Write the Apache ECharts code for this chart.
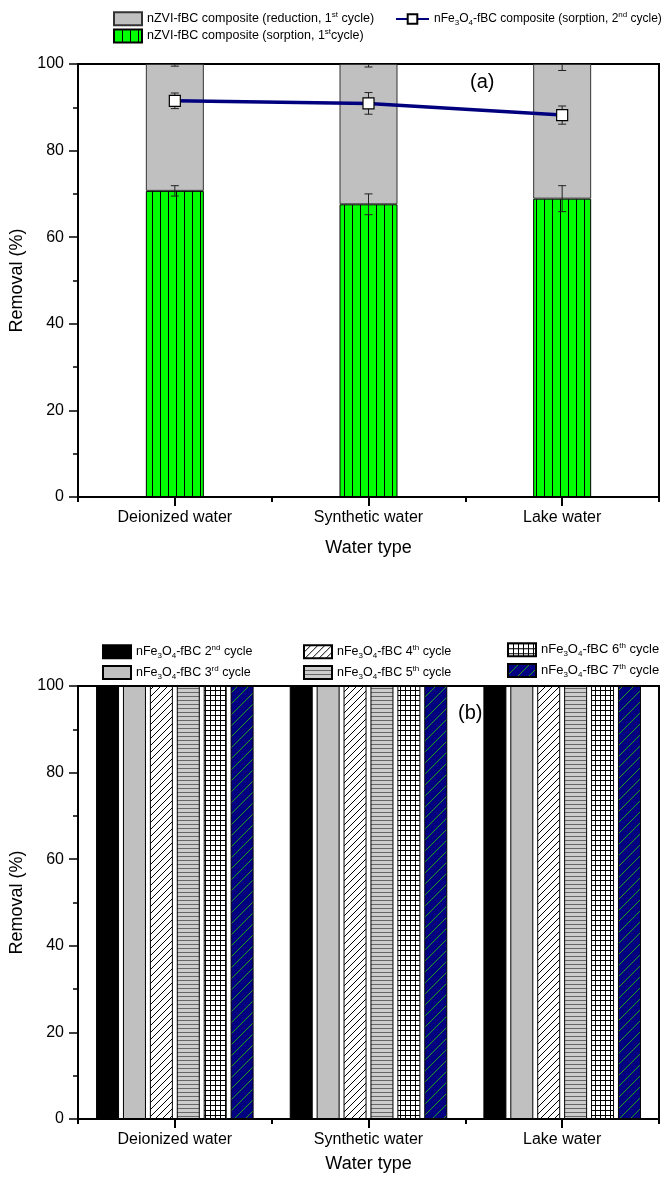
<!DOCTYPE html>
<html><head><meta charset="utf-8">
<script src="https://cdn.jsdelivr.net/npm/echarts@6/dist/echarts.min.js"></script>
<style>html,body{margin:0;padding:0;background:#fff}#c{width:670px;height:1184px}</style>
</head><body><div id="c"></div>
<script>
// ---- data ----
const categories = ['Deionized water', 'Synthetic water', 'Lake water'];
const yTickValues = [0, 20, 40, 60, 80, 100];
// panel (a)
const sorption1 = [70.7, 67.6, 68.9];
const sorption1Err = [1.2, 2.4, 3.0];
const reduction1 = [29.3, 32.4, 31.1];
const total1Err = [0.5, 0.7, 1.5];
const sorption2 = [91.5, 90.9, 88.2];
const sorption2Err = [1.8, 2.5, 2.1];
// panel (b)
const cycle2 = [100, 100, 100];
const cycle3 = [100, 100, 100];
const cycle4 = [100, 100, 100];
const cycle5 = [100, 100, 100];
const cycle6 = [100, 100, 100];
const cycle7 = [100, 100, 100];

const N_RED = 'nZVI-fBC composite (reduction, 1st cycle)';
const N_SOR = 'nZVI-fBC composite (sorption, 1st cycle)';
const N_FE = 'nFe3O4-fBC composite (sorption, 2nd cycle)';
const N_C = ['nFe3O4-fBC 2nd cycle','nFe3O4-fBC 3rd cycle','nFe3O4-fBC 4th cycle','nFe3O4-fBC 5th cycle','nFe3O4-fBC 6th cycle','nFe3O4-fBC 7th cycle'];
const richNames = {};
richNames[N_RED] = 'nZVI-fBC composite (reduction, 1{sup|st} cycle)';
richNames[N_SOR] = 'nZVI-fBC composite (sorption, 1{sup|st}cycle)';
richNames[N_FE] = 'nFe{sub|3}O{sub|4}-fBC composite (sorption, 2{sup|nd} cycle)';
const ords = ['nd','rd','th','th','th','th'];
N_C.forEach((n,i)=>{ richNames[n] = 'nFe{sub|3}O{sub|4}-fBC ' + (i+2) + '{sup|' + ords[i] + '} cycle'; });

// ---- patterns ----
function pattern(w, h, bg, draw) {
  const c = document.createElement('canvas'); c.width = w; c.height = h;
  const g = c.getContext('2d'); g.fillStyle = bg; g.fillRect(0, 0, w, h); draw(g, w, h);
  return { image: c, repeat: 'repeat' };
}
function diag(g, s, color, lw) {
  g.strokeStyle = color; g.lineWidth = lw; g.beginPath();
  g.moveTo(-1, s + 1); g.lineTo(s + 1, -1);
  g.moveTo(-1, 1); g.lineTo(1, -1);
  g.moveTo(s - 1, s + 1); g.lineTo(s + 1, s - 1);
  g.stroke();
}
const greenPat = pattern(8, 8, '#00ff00', g => { g.fillStyle = '#000'; g.fillRect(0, 0, 1, 8); });
const diagPat = pattern(7, 7, '#ffffff', (g, w) => diag(g, w, '#000', 1));
const horizPat = pattern(4, 4, '#cccccc', g => { g.fillStyle = '#666'; g.fillRect(0, 0, 4, 1); });
const gridPat = pattern(5, 5, '#ffffff', g => { g.fillStyle = '#000'; g.fillRect(0, 0, 5, 1); g.fillRect(0, 0, 1, 5); });
const navyPat = pattern(11, 11, '#000080', (g, w) => diag(g, w, '#1f9f1f', 1));

const FONT = "'Liberation Sans', Arial, sans-serif";
function richStyle(fs) {
  return {
    sup: { fontSize: 8, lineHeight: 9, verticalAlign: 'top', fontFamily: FONT, color: '#000' },
    sub: { fontSize: 8, lineHeight: 9, verticalAlign: 'bottom', fontFamily: FONT, color: '#000' }
  };
}
function legendText(fs) { return { fontSize: fs, fontFamily: FONT, color: '#000', lineHeight: 16, rich: richStyle(fs) }; }
function legendBase(extra, fs) {
  return Object.assign({
    orient: 'vertical', padding: 0, selectedMode: false, icon: 'rect',
    itemWidth: 28, itemHeight: 13, textStyle: legendText(fs || 12.5),
    formatter: n => richNames[n] || n
  }, extra);
}

function errRender(params, api) {
  const x = api.value(0), y = api.value(1), e = api.value(2);
  const t = api.coord([x, y + e]), b = api.coord([x, y - e]);
  const w = 4, st = { stroke: '#222', lineWidth: 1 };
  return { type: 'group', children: [
    { type: 'line', shape: { x1: t[0], y1: t[1], x2: b[0], y2: b[1] }, style: st },
    { type: 'line', shape: { x1: t[0] - w, y1: t[1], x2: t[0] + w, y2: t[1] }, style: st },
    { type: 'line', shape: { x1: b[0] - w, y1: b[1], x2: b[0] + w, y2: b[1] }, style: st }
  ]};
}
function errSeries(vals, errs, z) {
  return { type: 'custom', xAxisIndex: 0, yAxisIndex: 0, renderItem: errRender, clip: true, z: z,
    encode: { x: 0, y: 1 }, silent: true,
    data: vals.map((v, i) => [i, v, errs[i]]) };
}

function xAxes(grid, nameGap) {
  return [
    { gridIndex: grid, type: 'category', data: categories, boundaryGap: true,
      axisLine: { show: true, lineStyle: { color: '#000', width: 2 } },
      axisTick: { show: true, alignWithLabel: true, length: 9, interval: 0, lineStyle: { color: '#000', width: 2 } },
      axisLabel: { color: '#000', fontSize: 16, fontFamily: FONT, margin: 13, interval: 0 },
      name: 'Water type', nameLocation: 'middle', nameGap: nameGap,
      nameTextStyle: { color: '#000', fontSize: 18, fontFamily: FONT } },
    { gridIndex: grid, type: 'category', data: categories, boundaryGap: true, position: 'bottom',
      axisLine: { show: false },
      axisTick: { show: true, length: 5, interval: 0, lineStyle: { color: '#000', width: 2 } },
      axisLabel: { show: false } }
  ];
}
function yAxis(grid) {
  return { gridIndex: grid, type: 'value', min: 0, max: 100, interval: 20,
    axisLine: { show: true, lineStyle: { color: '#000', width: 2 } },
    axisTick: { show: true, length: 9, lineStyle: { color: '#000', width: 1.5 } },
    minorTick: { show: true, splitNumber: 2, length: 5, lineStyle: { color: '#000', width: 1.5 } },
    splitLine: { show: false },
    axisLabel: { color: '#000', fontSize: 16, fontFamily: FONT, margin: 14,
      formatter: v => yTickValues.indexOf(v) >= 0 ? String(v) : '' },
    name: 'Removal (%)', nameLocation: 'middle', nameGap: 50,
    nameTextStyle: { color: '#000', fontSize: 18, fontFamily: FONT } };
}

const bStyles = [
  { color: '#000000', borderColor: '#000', borderWidth: 1 },
  { color: '#c0c0c0', borderColor: '#000', borderWidth: 1 },
  { color: diagPat, borderColor: '#000', borderWidth: 1 },
  { color: horizPat, borderColor: '#000', borderWidth: 1 },
  { color: gridPat, borderColor: '#000', borderWidth: 1 },
  { color: navyPat, borderColor: '#000', borderWidth: 1 }
];
const bData = [cycle2, cycle3, cycle4, cycle5, cycle6, cycle7];

const option = {
  animation: false,
  backgroundColor: '#fff',
  grid: [
    { left: 78, top: 64, width: 581, height: 433, show: true, borderColor: '#000', borderWidth: 2, backgroundColor: 'transparent' },
    { left: 78, top: 686, width: 581, height: 433, show: true, borderColor: '#000', borderWidth: 2, backgroundColor: 'transparent' }
  ],
  xAxis: xAxes(0, 42).concat(xAxes(1, 36)),
  yAxis: [yAxis(0), yAxis(1)],
  legend: [
    legendBase({ data: [N_RED, N_SOR], left: 113, top: 10.7, itemGap: 1.3 }),
    legendBase({ data: [N_FE], left: 395, top: 11, itemWidth: 33, itemHeight: 12, icon: undefined }, 12),
    legendBase({ data: [N_C[0], N_C[1]], left: 102, top: 643.7, itemGap: 4.8 }),
    legendBase({ data: [N_C[2], N_C[3]], left: 303, top: 643.7, itemGap: 4.8 }),
    legendBase({ data: [N_C[4], N_C[5]], left: 507, top: 641.7, itemGap: 4.8 }, 13)
  ],
  graphic: [
    { type: 'text', left: 470, top: 72, style: { text: '(a)', fontSize: 20, fontFamily: FONT, fill: '#000' } },
    { type: 'text', left: 458, top: 703, style: { text: '(b)', fontSize: 20, fontFamily: FONT, fill: '#000' } }
  ],
  series: [
    { name: N_SOR, type: 'bar', stack: 'a', xAxisIndex: 0, yAxisIndex: 0, barWidth: 58, z: 2,
      itemStyle: { color: greenPat, borderColor: '#000', borderWidth: 1 }, data: sorption1 },
    { name: N_RED, type: 'bar', stack: 'a', xAxisIndex: 0, yAxisIndex: 0, barWidth: 58, z: 2,
      itemStyle: { color: '#c0c0c0', borderColor: '#333', borderWidth: 1 }, data: reduction1 },
    errSeries(sorption1, sorption1Err, 3),
    errSeries(sorption1.map((v, i) => v + reduction1[i]), total1Err, 3),
    errSeries(sorption2, sorption2Err, 4),
    { name: N_FE, type: 'line', xAxisIndex: 0, yAxisIndex: 0, z: 5, data: sorption2,
      symbol: 'rect', symbolSize: 11,
      itemStyle: { color: '#fff', borderColor: '#000', borderWidth: 1.2 },
      lineStyle: { color: '#00007f', width: 3.5 } }
  ].concat(bData.map((d, i) => ({
    name: N_C[i], type: 'bar', xAxisIndex: 2, yAxisIndex: 1, barWidth: 23, barGap: '17%',
    itemStyle: bStyles[i], data: d
  })))
};
const chart = echarts.init(document.getElementById('c'), null, { renderer: 'canvas' });
chart.setOption(option);
</script></body></html>
